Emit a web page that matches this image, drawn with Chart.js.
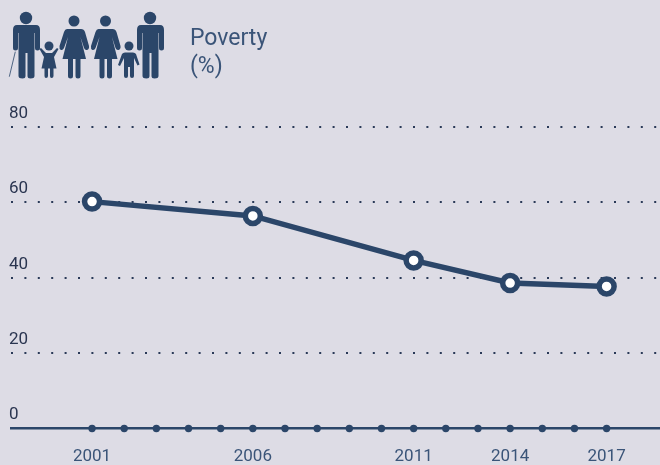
<!DOCTYPE html>
<html>
<head>
<meta charset="utf-8">
<script src="https://cdn.jsdelivr.net/npm/chart.js@4"></script>
<style>
html,body{margin:0;padding:0;background:#dddce5;}
#wrap{position:relative;width:660px;height:465px;overflow:hidden;}
#icon{position:absolute;left:0;top:0;}
.t{position:absolute;left:190px;font:23px/26px Roboto,sans-serif;color:#3a5478;white-space:nowrap;}
</style>
</head>
<body>
<div id="wrap">
<canvas id="c" width="660" height="465" style="display:block;width:660px;height:465px"></canvas>
<svg id="icon" width="180" height="90" fill="#2b4669">
<g id="man"><circle cx="26" cy="18" r="6.2"/><path d="M17 25H36Q40 25 40 30V48Q40 50.5 37.5 50.5Q35 50.5 35 48V33H34.5V76Q34.5 78.5 30.5 78.5Q27.5 78.5 27.5 76V53H25.5V76Q25.5 78.5 22.5 78.5Q18.5 78.5 18.5 76V33H18V48Q18 50.5 15.5 50.5Q13 50.5 13 48V30Q13 25 17 25Z"/></g>
<path d="M15.3 51.7L9.3 76.7" stroke="#2b4669" stroke-width="0.8" fill="none"/>
<use href="#man" x="124"/>
<g id="woman"><circle cx="74" cy="21" r="5.5"/><path d="M67 29H81Q84 29 85 32L89 46Q89.5 49 87 50Q85 50.5 84 48L80.5 37L86 59H80.5V76Q80.5 78.5 78 78.5Q75.5 78.5 75.5 76V59H73V76Q73 78.5 70.5 78.5Q68 78.5 68 76V59H62.5L68 37L64 48Q63 50.5 61 50Q59 49 59.5 46L64 32Q65 29 67 29Z"/></g>
<use href="#woman" x="31.5"/>
<circle cx="49" cy="46" r="4.5"/>
<path d="M39.5 49L41 48L46 53H52L57 48L58.5 49L54 57L56.5 68.5H53.5V76Q53.5 78 51.5 78Q50 78 50 76V68.5H48V76Q48 78 46 78Q44.5 78 44.5 76V68.5H41.5L44 57Z"/>
<circle cx="129" cy="46" r="4.5"/>
<path d="M125 52.5H133Q135 52.5 136 54L139.5 64.5L137.5 65.5L134 58V76Q134 78 132 78Q130 78 130 76V67H128V76Q128 78 126 78Q124 78 124 76V58L120 66L118 65L122 54Q123 52.5 125 52.5Z"/>
</svg>
<div class="t" style="top:25px">Poverty</div>
<div class="t" style="top:53px">(%)</div>
</div>
<script>
const years = [2001, 2006, 2011, 2014, 2017];
const poverty = [60.2, 56.4, 44.6, 38.6, 37.7];
const axisYears = [2001,2002,2003,2004,2005,2006,2007,2008,2009,2010,2011,2012,2013,2014,2015,2016,2017];
const yTicks = [0, 20, 40, 60, 80];
const navy = '#2b4669';

new Chart(document.getElementById('c'), {
  type: 'scatter',
  data: {
    datasets: [
      {
        data: years.map((y, i) => ({x: y, y: poverty[i]})),
        showLine: true, borderColor: navy, borderWidth: 5.5,
        pointRadius: 7.5, pointBorderWidth: 5.5, pointBackgroundColor: '#ffffff', pointBorderColor: navy,
        tension: 0, clip: false
      },
      {
        data: axisYears.map(y => ({x: y, y: 0})),
        showLine: false, pointRadius: 3.7, pointBorderWidth: 0,
        pointBackgroundColor: navy, pointBorderColor: navy, clip: false
      }
    ]
  },
  options: {
    responsive: false, animation: false,
    layout: {autoPadding: false, padding: {left: 11, top: 127, right: 0, bottom: 0}},
    plugins: {legend: {display: false}, tooltip: {enabled: false}, title: {display: false}},
    scales: {
      x: {
        type: 'linear', min: 1998.48, max: 2018.66,
        afterFit: s => { s.height = 36.5; },
        afterBuildTicks: s => { s.ticks = years.map(v => ({value: v})); },
        grid: {display: false, drawTicks: false},
        border: {display: true, color: navy, width: 2.5},
        ticks: {
          autoSkip: false, maxRotation: 0, minRotation: 0, padding: 18,
          color: '#3a5478', font: {family: 'Roboto', size: 17},
          callback: v => String(v)
        }
      },
      y: {
        type: 'linear', min: 0, max: 80,
        afterFit: s => { s.width = 0; },
        afterBuildTicks: s => { s.ticks = yTicks.map(v => ({value: v})); },
        grid: {color: c => c.tick && c.tick.value === 0 ? 'rgba(0,0,0,0)' : '#2a3a58', lineWidth: 2, drawTicks: false},
        border: {display: false, dash: [2, 11.4]},
        ticks: {
          mirror: true, padding: -2, labelOffset: -13.5,
          color: '#2a3550', font: {family: 'Roboto', size: 17},
          callback: v => String(v)
        }
      }
    }
  }
});
</script>
</body>
</html>
